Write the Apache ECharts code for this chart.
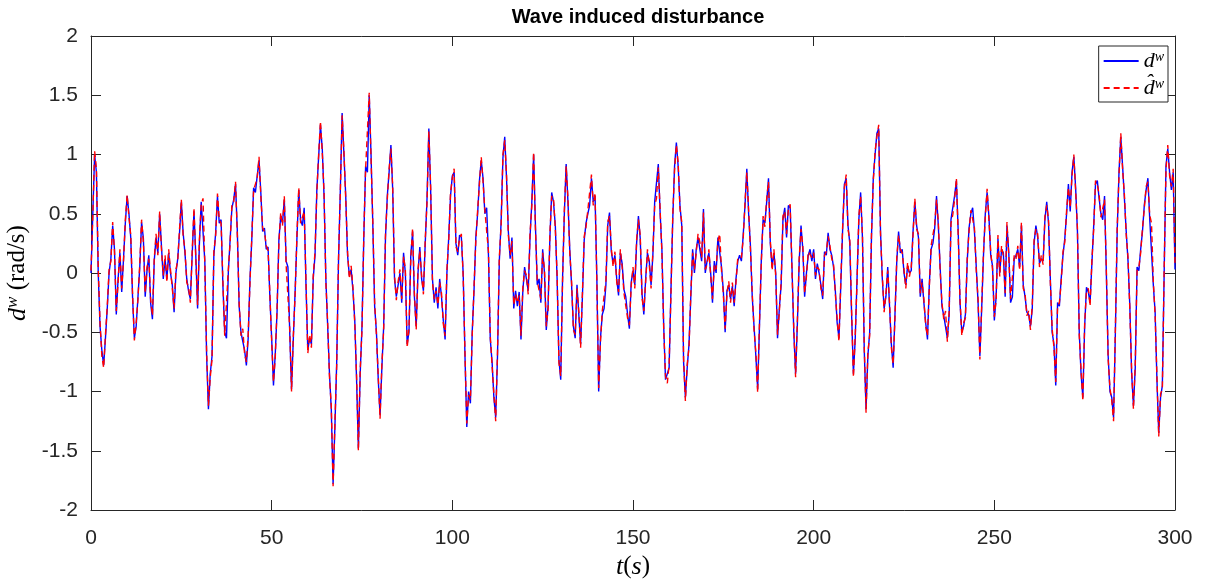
<!DOCTYPE html>
<html>
<head>
<meta charset="utf-8">
<title>Wave induced disturbance</title>
<script src="https://cdn.jsdelivr.net/npm/echarts@6.0.0/dist/echarts.min.js"></script>
<style>
  html, body { margin: 0; padding: 0; background: #ffffff; }
  #main { width: 1207px; height: 581px; }
</style>
</head>
<body>
<div id="main"></div>
<script>
// Wave induced disturbance: measured d^w (blue) vs estimate (red dashed), sampled every 0.5 s
const dt = 0.5;
const xTicks = [0, 50, 100, 150, 200, 250, 300];
const yTicks = [-2, -1.5, -1, -0.5, 0, 0.5, 1, 1.5, 2];

// d^w, t = 0 ... 300 s
const dw = [
  0.0, 0.5, 1.0, 0.85, 0.0, -0.45, -0.65, -0.78, -0.55, -0.3, 0.0, 0.12, 0.4, 0.2, -0.35, -0.05, 0.17, -0.16, 0.12, 0.42, 0.65, 0.5, 0.3, -0.2, -0.55, -0.45, -0.2, 0.05, 0.43, 0.29, -0.2, 0.02, 0.15, -0.25, -0.39, 0.1, 0.3, 0.17, 0.5, 0.23, -0.05, 0.12, -0.05, 0.17, 0.0, -0.1, -0.33, 0.0, 0.12, 0.34, 0.6, 0.34, 0.17, -0.05,
  -0.15, -0.22, 0.15, 0.52, 0.15, -0.3, 0.25, 0.6, 0.6, 0.1, -0.7, -1.15, -0.85, -0.7, 0.15, 0.34, 0.65, 0.42, 0.45, -0.1, -0.5, -0.55, 0.0, 0.28, 0.55, 0.62, 0.75, 0.35, -0.28, -0.5, -0.5, -0.65, -0.78, -0.55, -0.05, 0.28, 0.72, 0.68, 0.82, 0.95, 0.68, 0.35, 0.38, 0.2, 0.22, -0.2, -0.55, -0.95, -0.68, -0.32, 0.28, 0.48, 0.42, 0.62, 0.1,
  0.05, -0.5, -0.98, -0.55, -0.15, 0.3, 0.7, 0.45, 0.4, 0.55, -0.1, -0.65, -0.55, -0.6, -0.05, 0.15, 0.7, 0.98, 1.25, 1.05, 0.65, -0.05, -0.45, -0.85, -1.15, -1.78, -1.3, -0.75, 0.1, 0.7, 1.35, 1.0, 0.65, 0.15, -0.02, 0.03, -0.15, -0.4, -0.9, -1.48, -0.85, -0.45, 0.3, 0.9, 0.85, 1.5, 1.0, 0.4, -0.28, -0.5, -0.9, -1.2, -0.8, -0.45, 0.3,
  0.65, 0.85, 1.08, 0.7, -0.05, -0.2, -0.1, 0.0, -0.25, 0.17, 0.0, -0.6, -0.5, 0.15, 0.35, -0.2, -0.45, 0.0, 0.22, -0.05, -0.15, 0.25, 0.63, 1.22, 0.7, -0.05, -0.25, -0.12, -0.3, -0.05, -0.2, -0.4, -0.56, 0.0, 0.3, 0.65, 0.82, 0.85, 0.25, 0.15, 0.32, 0.3, 0.0, -0.7, -1.3, -1.0, -1.1, -0.5, -0.15, 0.3, 0.5, 0.78, 0.95, 0.8, 0.5,
  0.55, 0.15, -0.56, -0.75, -1.05, -1.22, -0.7, 0.1, 0.43, 0.97, 1.15, 0.8, 0.35, 0.12, 0.3, -0.3, -0.15, -0.28, -0.16, -0.56, -0.16, 0.05, -0.05, -0.15, 0.3, 0.6, 1.0, 0.4, -0.1, -0.05, -0.25, 0.2, 0.0, -0.48, -0.28, 0.3, 0.68, 0.6, 0.4, -0.05, -0.73, -0.9, -0.05, 0.5, 0.92, 0.6, 0.2, -0.1, -0.45, -0.55, -0.1, -0.35, -0.6, -0.2,
  0.28, 0.42, 0.5, 0.57, 0.8, 0.6, 0.65, -0.05, -1.0, -0.55, -0.35, -0.3, -0.1, 0.4, 0.51, 0.18, 0.08, 0.15, -0.05, -0.19, 0.17, 0.08, -0.14, -0.2, -0.35, -0.47, -0.08, 0.02, -0.1, 0.25, 0.48, 0.29, -0.18, -0.35, -0.05, 0.17, 0.1, -0.1, 0.15, 0.6, 0.6, 0.92, 0.51, 0.2, -0.45, -0.9, -0.9, -0.8, -0.15, 0.45, 0.9, 1.1, 0.9, 0.57, 0.4,
  -0.75, -1.05, -0.8, -0.6, -0.2, 0.2, 0.0, 0.2, 0.3, 0.29, 0.1, 0.54, 0.0, 0.1, 0.17, 0.0, -0.25, 0.1, 0.0, 0.3, 0.3, 0.05, -0.15, -0.5, -0.15, -0.1, -0.22, -0.11, -0.28, -0.05, 0.1, 0.15, 0.1, 0.32, 0.57, 0.88, 0.5, 0.23, -0.2, -0.45, -0.7, -0.98, -0.45, 0.1, 0.45, 0.42, 0.6, 0.8, 0.25, 0.05, 0.17, 0.0, -0.55, -0.3, -0.1,
  0.45, 0.55, 0.3, 0.57, 0.55, 0.05, -0.5, -0.85, -0.42, 0.1, 0.4, 0.2, -0.2, 0.0, 0.15, 0.2, 0.1, 0.2, -0.05, 0.08, 0.0, -0.1, -0.22, 0.18, 0.15, 0.34, 0.2, 0.15, 0.05, -0.15, -0.42, -0.55, -0.11, 0.35, 0.75, 0.8, 0.4, 0.25, -0.35, -0.85, -0.56, -0.05, 0.45, 0.68, 0.3, -0.65, -1.15, -0.7, -0.5, 0.3, 0.8, 1.0, 1.18, 1.22, 0.35,
  -0.05, -0.3, -0.2, 0.05, -0.28, -0.6, -0.8, -0.35, 0.1, 0.35, 0.17, 0.2, 0.0, -0.1, 0.06, 0.0, 0.02, 0.35, 0.6, 0.4, 0.3, -0.2, -0.05, -0.25, -0.42, -0.56, -0.1, 0.2, 0.25, 0.38, 0.65, 0.4, 0.05, -0.28, -0.36, -0.35, -0.55, -0.35, 0.45, 0.46, 0.65, 0.78, 0.35, -0.25, -0.5, -0.45, -0.35, 0.1, 0.38, 0.5, 0.55, 0.35, 0.05, -0.25, -0.7,
  -0.3, 0.15, 0.5, 0.68, 0.48, 0.15, 0.06, -0.4, -0.2, 0.29, 0.0, 0.2, 0.17, -0.2, 0.4, 0.17, -0.25, -0.2, 0.12, 0.15, 0.2, 0.05, 0.4, -0.1, -0.2, -0.33, -0.35, -0.45, -0.3, 0.25, 0.4, 0.3, 0.08, 0.12, 0.1, 0.45, 0.6, 0.42, -0.05, -0.5, -0.6, -0.95, -0.25, -0.28, -0.05, 0.15, 0.29, 0.5, 0.75, 0.52, 0.85, 0.98, 0.72, 0.35,
  -0.5, -0.85, -1.05, -0.45, -0.12, -0.16, -0.25, 0.08, 0.4, 0.75, 0.78, 0.63, 0.5, 0.45, 0.65, 0.0, -0.7, -1.0, -1.05, -1.22, -0.5, 0.35, 0.85, 1.15, 0.9, 0.63, 0.35, 0.1, -0.28, -0.85, -1.12, -0.8, 0.05, 0.02, 0.2, 0.35, 0.57, 0.7, 0.8, 0.46, 0.45, -0.1, -0.33, -0.9, -1.35, -1.05, -0.95, 0.0, 0.9, 1.05, 0.85, 0.7, 0.85, 0.03
];

// estimate of d^w, same sample times
const dwHat = [
  0.02, 0.48, 1.03, 0.88, 0.05, -0.42, -0.7, -0.8, -0.52, -0.28, 0.03, 0.1, 0.43, 0.18, -0.32, -0.08, 0.2, -0.13, 0.1, 0.45, 0.66, 0.47, 0.32, -0.17, -0.57, -0.42, -0.22, 0.08, 0.45, 0.26, -0.17, 0.05, 0.12, -0.22, -0.36, 0.12, 0.33, 0.15, 0.52, 0.2, -0.02, 0.15, -0.08, 0.2, 0.03, -0.13, -0.3, 0.03, 0.1, 0.37, 0.62, 0.31, 0.2, -0.08,
  -0.12, -0.25, 0.18, 0.55, 0.12, -0.27, 0.28, 0.58, 0.63, 0.07, -0.67, -1.12, -0.88, -0.73, 0.18, 0.31, 0.67, 0.45, 0.42, -0.07, -0.53, -0.52, 0.03, 0.25, 0.58, 0.6, 0.77, 0.32, -0.25, -0.53, -0.47, -0.68, -0.75, -0.52, -0.08, 0.31, 0.7, 0.71, 0.8, 0.98, 0.65, 0.38, 0.35, 0.23, 0.19, -0.17, -0.58, -0.92, -0.71, -0.29, 0.25, 0.51, 0.4, 0.65, 0.07,
  0.08, -0.47, -1.0, -0.52, -0.18, 0.33, 0.72, 0.42, 0.43, 0.52, -0.07, -0.68, -0.52, -0.63, -0.02, 0.18, 0.68, 1.0, 1.28, 1.02, 0.68, -0.08, -0.42, -0.88, -1.12, -1.8, -1.27, -0.78, 0.13, 0.68, 1.33, 1.03, 0.62, 0.18, -0.05, 0.06, -0.12, -0.43, -0.87, -1.5, -0.82, -0.48, 0.33, 0.88, 0.88, 1.52, 0.97, 0.43, -0.25, -0.53, -0.87, -1.23, -0.77, -0.48, 0.33,
  0.62, 0.88, 1.05, 0.73, -0.02, -0.23, -0.07, 0.03, -0.22, 0.14, 0.03, -0.63, -0.47, 0.12, 0.38, -0.17, -0.48, 0.03, 0.19, -0.02, -0.18, 0.28, 0.6, 1.2, 0.73, -0.08, -0.22, -0.15, -0.27, -0.08, -0.17, -0.43, -0.53, 0.03, 0.27, 0.68, 0.8, 0.88, 0.22, 0.18, 0.29, 0.33, -0.03, -0.67, -1.27, -1.03, -1.07, -0.53, -0.12, 0.27, 0.53, 0.75, 0.98, 0.77, 0.53,
  0.52, 0.18, -0.53, -0.78, -1.02, -1.25, -0.67, 0.13, 0.4, 1.0, 1.12, 0.83, 0.32, 0.15, 0.27, -0.27, -0.18, -0.25, -0.19, -0.53, -0.13, 0.02, -0.02, -0.18, 0.33, 0.57, 1.02, 0.37, -0.07, -0.08, -0.22, 0.17, 0.03, -0.45, -0.31, 0.33, 0.65, 0.63, 0.37, -0.02, -0.76, -0.87, -0.08, 0.53, 0.9, 0.63, 0.17, -0.07, -0.48, -0.52, -0.13, -0.32, -0.63, -0.17,
  0.31, 0.39, 0.53, 0.54, 0.83, 0.57, 0.68, -0.08, -0.97, -0.58, -0.32, -0.33, -0.07, 0.43, 0.48, 0.21, 0.05, 0.18, -0.08, -0.16, 0.2, 0.05, -0.17, -0.17, -0.38, -0.44, -0.11, 0.05, -0.13, 0.28, 0.45, 0.32, -0.21, -0.32, -0.08, 0.2, 0.07, -0.13, 0.18, 0.57, 0.63, 0.89, 0.54, 0.17, -0.48, -0.87, -0.93, -0.77, -0.18, 0.48, 0.87, 1.08, 0.93, 0.54, 0.43,
  -0.72, -1.08, -0.77, -0.63, -0.17, 0.17, 0.03, 0.17, 0.33, 0.26, 0.13, 0.51, 0.03, 0.07, 0.2, -0.03, -0.22, 0.07, 0.03, 0.27, 0.33, 0.02, -0.18, -0.47, -0.18, -0.07, -0.25, -0.08, -0.25, -0.08, 0.13, 0.12, 0.13, 0.29, 0.6, 0.85, 0.53, 0.2, -0.17, -0.48, -0.67, -1.01, -0.42, 0.07, 0.48, 0.39, 0.63, 0.77, 0.28, 0.02, 0.2, -0.03, -0.52, -0.33, -0.07,
  0.48, 0.52, 0.33, 0.54, 0.58, 0.02, -0.47, -0.88, -0.39, 0.13, 0.37, 0.23, -0.17, -0.03, 0.18, 0.17, 0.13, 0.17, -0.02, 0.05, 0.03, -0.13, -0.19, 0.15, 0.18, 0.31, 0.23, 0.12, 0.08, -0.18, -0.39, -0.58, -0.08, 0.38, 0.72, 0.83, 0.37, 0.28, -0.32, -0.88, -0.53, -0.08, 0.48, 0.65, 0.33, -0.62, -1.18, -0.67, -0.53, 0.33, 0.77, 1.03, 1.15, 1.25, 0.32,
  -0.02, -0.33, -0.17, 0.02, -0.25, -0.63, -0.77, -0.38, 0.13, 0.32, 0.2, 0.17, 0.03, -0.13, 0.09, -0.03, 0.05, 0.32, 0.63, 0.37, 0.33, -0.17, -0.08, -0.22, -0.45, -0.53, -0.13, 0.23, 0.22, 0.41, 0.62, 0.43, 0.02, -0.25, -0.39, -0.32, -0.58, -0.32, 0.42, 0.49, 0.62, 0.8, 0.32, -0.22, -0.53, -0.42, -0.38, 0.13, 0.35, 0.53, 0.52, 0.38, 0.02, -0.22, -0.73,
  -0.27, 0.18, 0.47, 0.71, 0.45, 0.18, 0.03, -0.37, -0.23, 0.32, -0.03, 0.23, 0.14, -0.17, 0.43, 0.14, -0.22, -0.23, 0.15, 0.12, 0.23, 0.02, 0.43, -0.13, -0.17, -0.36, -0.32, -0.48, -0.27, 0.28, 0.37, 0.33, 0.05, 0.15, 0.07, 0.48, 0.57, 0.45, -0.08, -0.47, -0.63, -0.92, -0.28, -0.25, -0.08, 0.18, 0.26, 0.53, 0.72, 0.55, 0.82, 1.0, 0.69, 0.38,
  -0.53, -0.82, -1.08, -0.42, -0.15, -0.13, -0.28, 0.11, 0.37, 0.78, 0.75, 0.66, 0.47, 0.48, 0.62, 0.03, -0.73, -0.97, -1.08, -1.25, -0.47, 0.38, 0.82, 1.18, 0.87, 0.66, 0.32, 0.13, -0.31, -0.82, -1.15, -0.77, 0.02, 0.05, 0.17, 0.38, 0.54, 0.73, 0.77, 0.49, 0.42, -0.07, -0.36, -0.87, -1.38, -1.02, -0.98, 0.03, 0.87, 1.08, 0.82, 0.73, 0.88, 0.06
];

const axisColor = "#262626";
const sansFont = "'Liberation Sans', Arial, Helvetica, sans-serif";
const serifFont = "'Liberation Serif', 'Times New Roman', serif";

// LaTeX-like pieces for names and legend
const mathRich = {
    it: { fontFamily: serifFont, fontStyle: "italic", fontSize: 26, color: "#000", lineHeight: 28 },
    sup: { fontFamily: serifFont, fontStyle: "italic", fontSize: 17, color: "#000", lineHeight: 17, verticalAlign: "top" },
    rm: { fontFamily: serifFont, fontSize: 25, color: "#000", lineHeight: 28 }
};
const legendRich = {
    it: { fontFamily: serifFont, fontStyle: "italic", fontSize: 22, color: "#000", lineHeight: 22 },
    sup: { fontFamily: serifFont, fontStyle: "italic", fontSize: 14, color: "#000", lineHeight: 14, verticalAlign: "top" }
};

function pairs(values) {
    return values.map((v, i) => [i * dt, v]);
}

function boxAxis(extra) {
    return Object.assign({
        type: "value",
        axisLine: { show: true, onZero: false, lineStyle: { color: axisColor, width: 1 } },
        axisTick: { show: true, inside: true, length: 10, lineStyle: { color: axisColor, width: 1 } },
        splitLine: { show: false }
    }, extra);
}

const chart = echarts.init(document.getElementById("main"), null, { renderer: "canvas" });

chart.setOption({
    animation: false,
    backgroundColor: "#ffffff",
    title: {
        text: "Wave induced disturbance",
        left: 633,
        top: 2,
        textAlign: "center",
        textStyle: { fontFamily: sansFont, fontSize: 20, fontWeight: "bold", color: "#000" }
    },
    grid: { left: 91, right: 32, top: 36, bottom: 71, containLabel: false, outerBoundsMode: "none" },
    legend: {
        orient: "vertical",
        right: 39,
        top: 46,
        itemWidth: 35,
        itemHeight: 12,
        itemGap: 5,
        padding: [4, 4, 3, 4],
        borderColor: axisColor,
        borderWidth: 1,
        backgroundColor: "#ffffff",
        itemStyle: { opacity: 0 },
        data: ["dw", "dwHat"],
        formatter: name => name === "dw" ? "{it|d}{sup|w}" : "{it|d\u0302}{sup|w}",
        textStyle: { rich: legendRich }
    },
    xAxis: [
        boxAxis({
            min: xTicks[0], max: xTicks[xTicks.length - 1], interval: 50, position: "bottom",
            axisLabel: { fontFamily: sansFont, fontSize: 21, color: axisColor, margin: 18 },
            name: "{it|t}{rm|(}{it|s}{rm|)}",
            nameLocation: "middle",
            nameGap: 37,
            nameTextStyle: { rich: mathRich }
        }),
        boxAxis({ min: 0, max: 300, interval: 50, position: "top", axisLabel: { show: false } })
    ],
    yAxis: [
        boxAxis({
            min: yTicks[0], max: yTicks[yTicks.length - 1], interval: 0.5, position: "left",
            axisLabel: { fontFamily: sansFont, fontSize: 21, color: axisColor, margin: 13 },
            name: "{it|d}{sup|w}{rm| (rad/s)}",
            nameLocation: "middle",
            nameRotate: 90,
            nameGap: 48,
            nameTextStyle: { rich: mathRich }
        }),
        boxAxis({ min: -2, max: 2, interval: 0.5, position: "right", axisLabel: { show: false } })
    ],
    series: [
        {
            name: "dw",
            type: "line",
            xAxisIndex: 0,
            yAxisIndex: 0,
            data: pairs(dw),
            symbol: "none",
            showSymbol: false,
            sampling: null,
            lineStyle: { color: "#0000ff", width: 1.4 },
            itemStyle: { color: "#0000ff" },
            z: 2
        },
        {
            name: "dwHat",
            type: "line",
            xAxisIndex: 0,
            yAxisIndex: 0,
            data: pairs(dwHat),
            symbol: "none",
            showSymbol: false,
            sampling: null,
            lineStyle: { color: "#ff0000", width: 1.4, type: [6, 4] },
            itemStyle: { color: "#ff0000" },
            z: 3
        }
    ]
});

window.addEventListener("resize", () => chart.resize());
</script>
</body>
</html>
